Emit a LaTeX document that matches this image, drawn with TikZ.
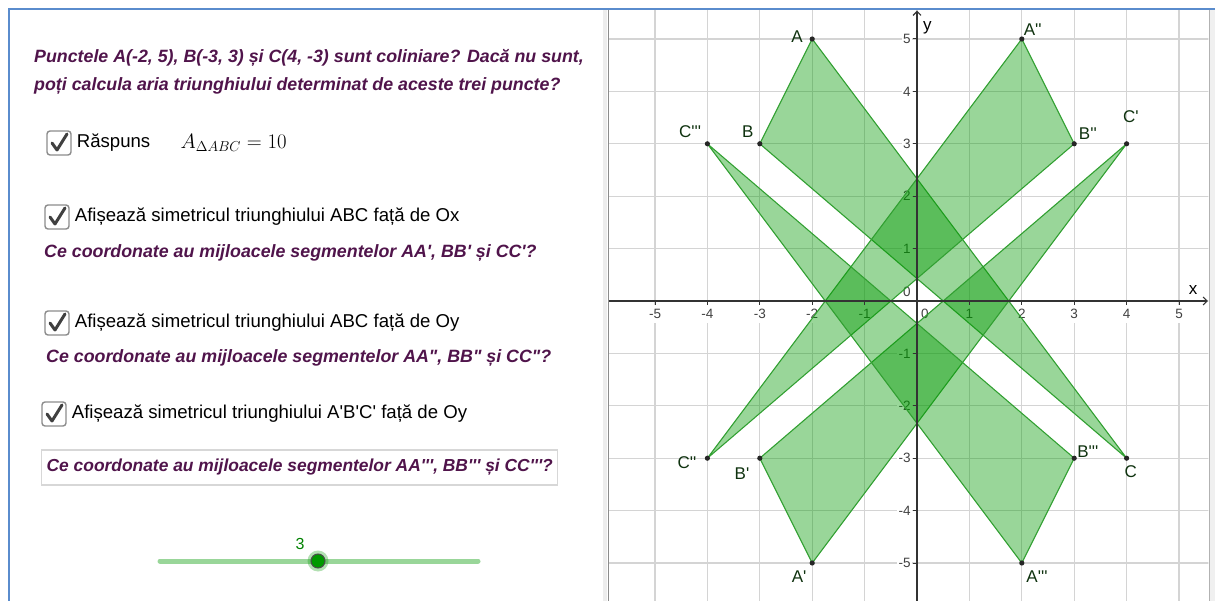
\documentclass[tikz,border=0pt]{standalone}
\usepackage[no-math]{fontspec}
\setmainfont{Liberation Sans}[Ligatures=TeXOff]
\usepackage{tikz}
\usetikzlibrary{arrows.meta,positioning}
\definecolor{GeoGreen}{RGB}{0,153,0}
\definecolor{EdgeGreen}{RGB}{50,160,50}
\definecolor{LabelGreen}{RGB}{15,50,15}
\definecolor{PlumText}{RGB}{80,20,75}
\definecolor{FrameBlue}{RGB}{90,140,205}
\definecolor{GridGray}{RGB}{212,212,212}
\definecolor{BoxGray}{RGB}{215,215,215}
\definecolor{SliderGreen}{RGB}{153,214,153}
\begin{document}
\begin{tikzpicture}[x=1pt,y=-1pt,>={Straight Barb[length=4pt,width=8pt]},
 question/.style={font=\fontsize{17.8}{28}\selectfont\bfseries\itshape,text=PlumText,anchor=west,inner sep=0pt,align=left},
 optlabel/.style={font=\fontsize{18.6}{22}\selectfont,anchor=west,inner sep=3pt},
 chkbox/.style={draw=black!45,fill=white,line width=1.4pt,rounded corners=3pt,minimum size=24pt,inner sep=0pt},
 chkmark/.style={draw=black!75,line width=3pt,line cap=round,line join=round},
 tri/.style={fill=GeoGreen,fill opacity=0.4,draw=EdgeGreen,line width=1.1pt,line join=round},
 ptlabel/.style={text=LabelGreen,font=\fontsize{17}{18}\selectfont,inner sep=0pt},
 ticklbl/.style={fill=white,text=black!75,font=\fontsize{13.5}{15}\selectfont,inner xsep=1.5pt,inner ysep=0pt,minimum height=18pt}]
\useasboundingbox (0,0) rectangle (1215,601);
\fill[white] (0,0) rectangle (1215,601);
\fill[black!7] (603,10) rectangle (607,601);\draw[black!45,line width=1.5pt] (608.5,10) -- (608.5,601);
\fill[black!6] (1210,10) rectangle (1215,601);\draw[black!30,line width=1.5pt] (1209.5,10) -- (1209.5,601);
\draw[FrameBlue,line width=2pt] (8.5,601) -- (8.5,9) -- (1215,9);
\node[question] (q0) at (34,72) {Punctele A(-2, 5), B(-3, 3) și C(4, -3) sunt coliniare? Dacă nu sunt,\\poți calcula aria triunghiului determinat de aceste trei puncte?};
\foreach \n/\px/\py in {1/59/143,2/57/217,3/57/323,4/54/414}{
 \node[chkbox] (chk\n) at (\px,\py) {};
 \draw[chkmark] ([shift={(-7,0)}]chk\n.center) -- ([shift={(-2,7)}]chk\n.center) -- ([shift={(8,-9)}]chk\n.center);
}
\node[optlabel,right=2pt of chk1] (opt1) {Răspuns};
\node[anchor=west,font=\fontsize{21.6}{26}\selectfont] (area) at (177,143) {$A_{\Delta ABC}=10$};
\node[optlabel,right=2pt of chk2] (opt2) {Afișează simetricul triunghiului ABC față de Ox};
\node[question] (q1) at (44,253) {Ce coordonate au mijloacele segmentelor AA', BB' și CC'?};
\node[optlabel,right=2pt of chk3] (opt3) {Afișează simetricul triunghiului ABC față de Oy};
\node[question] (q2) at (46,358) {Ce coordonate au mijloacele segmentelor AA", BB" și CC"?};
\node[optlabel,right=2pt of chk4] (opt4) {Afișează simetricul triunghiului A'B'C' față de Oy};
\node[question,font=\fontsize{17.4}{28}\selectfont\bfseries\itshape,draw=BoxGray,line width=1.3pt,inner xsep=5pt,minimum height=35pt] (q3) at (41,467.5) {Ce coordonate au mijloacele segmentelor AA''', BB''' și CC'''?};
\coordinate (s0) at (160,561);\coordinate (s1) at (478,561);
\draw[SliderGreen,line width=5pt,line cap=round] (s0) -- (s1);
\fill[GeoGreen,opacity=0.3] (318,561) circle (10.5pt);
\node[circle,fill=GeoGreen,draw=black!70,line width=1pt,minimum size=14pt,inner sep=0pt] (knob) at (318,561) {};
\node[text=GeoGreen!85!black,font=\fontsize{16}{18}\selectfont] (sval) at (300,544) {3};
\begin{scope}[shift={(917,301)},x=52.4pt,y=52.4pt]
\clip (-5.878,-5.73) rectangle (5.56,5.553);
\draw[GridGray,line width=1.2pt,step=1] (-6,-6) grid (6,6);
\foreach \k in {-5,-4,-3,-2,-1,1,2,3,4,5}{\node[ticklbl] (xt\k) at (\k,-0.25) {\k};\node[ticklbl,anchor=east] (yt\k) at (-0.09,\k) {\k};}
\node[ticklbl,anchor=east] (yt0) at (-0.09,0.17) {0};\node[ticklbl] (xt0) at (0.15,-0.25) {0};
\coordinate (A) at (-2,5);\coordinate (B) at (-3,3);\coordinate (C) at (4,-3);
\coordinate (A1) at (-2,-5);\coordinate (B1) at (-3,-3);\coordinate (C1) at (4,3);
\coordinate (A2) at (2,5);\coordinate (B2) at (3,3);\coordinate (C2) at (-4,-3);
\coordinate (A3) at (2,-5);\coordinate (B3) at (3,-3);\coordinate (C3) at (-4,3);
\filldraw[tri] (A)--(B)--(C)--cycle;\filldraw[tri] (A1)--(B1)--(C1)--cycle;
\filldraw[tri] (A2)--(B2)--(C2)--cycle;\filldraw[tri] (A3)--(B3)--(C3)--cycle;
\draw[black!80,line width=1.1pt,->] (-5.9,0) -- (5.55,0);\draw[black!80,line width=1.1pt,->] (0,-5.8) -- (0,5.54);
\foreach \k in {-5,...,5}{\draw[black!80,line width=1pt] (\k,0) -- ++(0,-4pt);\draw[black!80,line width=1pt] (0,\k) -- ++(-4pt,0);}
\foreach \p in {A,B,C,A1,B1,C1,A2,B2,C2,A3,B3,C3}{\fill[black!85] (\p) circle (2.6pt);}
\node[ptlabel] (lA) at (-2.29,5.04) {A};\node[ptlabel] (lB) at (-3.23,3.24) {B};\node[ptlabel] (lC) at (4.08,-3.26) {C};
\node[ptlabel] (lA1) at (-2.25,-5.27) {A'};\node[ptlabel] (lB1) at (-3.34,-3.3) {B'};\node[ptlabel] (lC1) at (4.08,3.51) {C'};
\node[ptlabel] (lA2) at (2.21,5.17) {A''};\node[ptlabel] (lB2) at (3.26,3.19) {B''};\node[ptlabel] (lC2) at (-4.39,-3.09) {C''};
\node[ptlabel] (lA3) at (2.29,-5.27) {A'''};\node[ptlabel] (lB3) at (3.26,-2.88) {B'''};\node[ptlabel] (lC3) at (-4.33,3.24) {C'''};
\node[font=\fontsize{17}{18}\selectfont] (xlbl) at (5.27,0.21) {x};\node[font=\fontsize{17}{18}\selectfont] (ylbl) at (0.2,5.22) {y};
\end{scope}
\end{tikzpicture}
\end{document}
